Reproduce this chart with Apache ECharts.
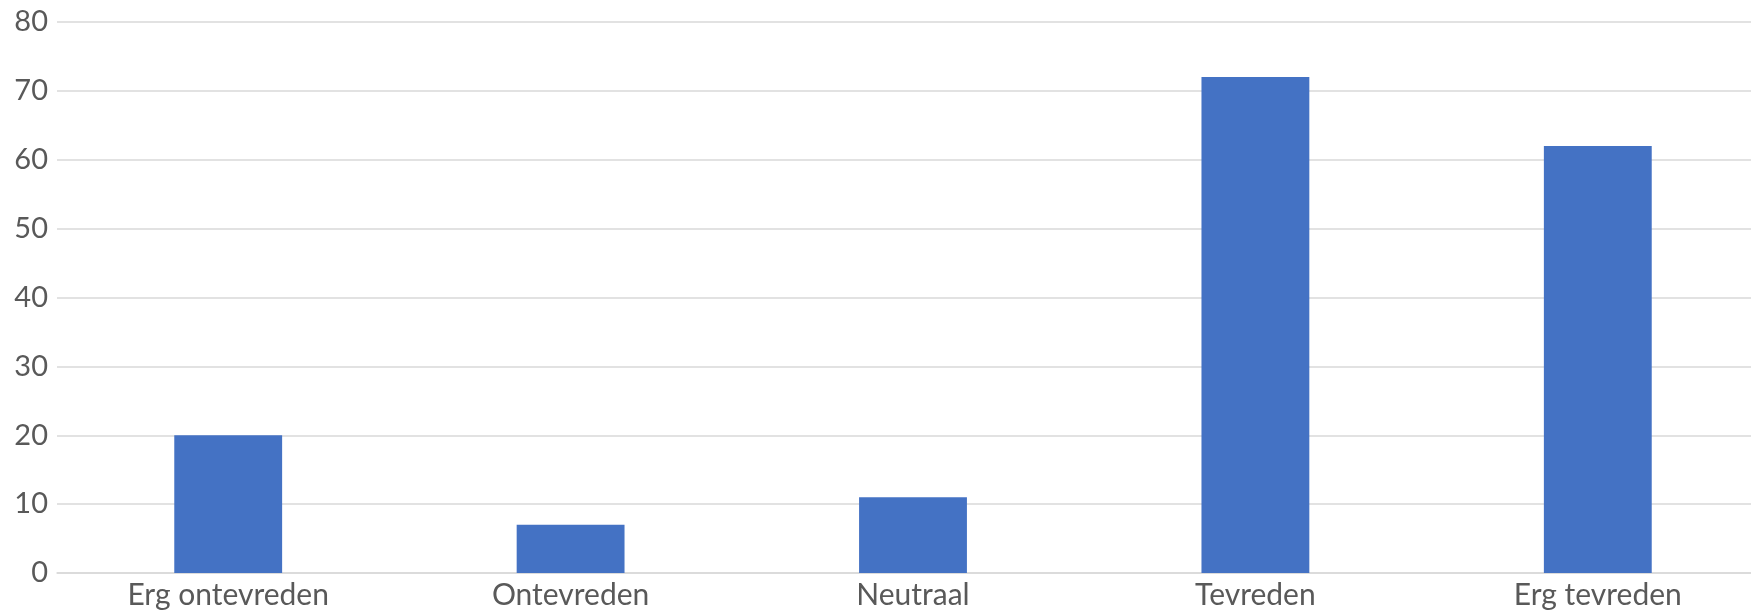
<!DOCTYPE html>
<html>
<head>
<meta charset="utf-8">
<script src="https://cdn.jsdelivr.net/npm/echarts@6/dist/echarts.min.js"></script>
<style>html,body{margin:0;padding:0;background:#fff;overflow:hidden;width:1751px;height:613px}#c{width:1769px;height:613px}</style>
</head>
<body>
<div id="c"></div>
<script>
const categories = ["Erg ontevreden", "Ontevreden", "Neutraal", "Tevreden", "Erg tevreden"];
const values = [20, 7, 11, 72, 62];
const yTicks = [0, 10, 20, 30, 40, 50, 60, 70, 80];

const chart = echarts.init(document.getElementById('c'), null, {renderer: 'canvas'});
chart.setOption({
  animation: false,
  grid: {left: 57, right: 0, top: 22, bottom: 40, containLabel: false},
  xAxis: {
    type: 'category',
    data: categories,
    axisLine: {show: true, lineStyle: {color: '#D9D9D9', width: 1.5}},
    axisTick: {show: false},
    axisLabel: {color: '#595959', fontFamily: 'Lato', fontSize: 30, margin: 7}
  },
  yAxis: {
    type: 'value',
    min: yTicks[0],
    max: yTicks[yTicks.length - 1],
    interval: 10,
    axisLine: {show: false},
    axisTick: {show: false},
    splitLine: {lineStyle: {color: '#D9D9D9', width: 1.5}},
    axisLabel: {color: '#595959', fontFamily: 'Lato', fontSize: 29, margin: 9}
  },
  series: [{
    type: 'bar',
    data: values,
    barWidth: '31.5%',
    itemStyle: {color: '#4472C4'}
  }]
});
</script>
</body>
</html>
